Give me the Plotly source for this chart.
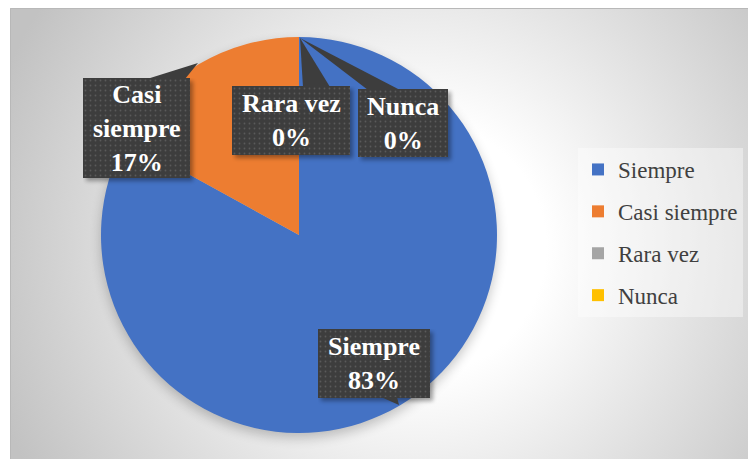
import base64
import plotly.graph_objects as go

# datos de la encuesta
categorias = ["Siempre", "Casi siempre", "Rara vez", "Nunca"]
porcentajes = [83, 17, 0, 0]
etiquetas = ["Siempre", "Casi<br>siempre", "Rara vez", "Nunca"]
colores = ["#4472C4", "#ED7D31", "#A5A5A5", "#FFC000"]

# la pagina tiene 8px de margen, la figura ocupa el resto de la ventana
OFF = 8
W, H = 756 - OFF, 459 - OFF
FONT = "Liberation Serif, Times New Roman, serif"


def px(x):
    return (x - OFF) / W


def py(y):
    return 1 - (y - OFF) / H


def svg_uri(svg):
    return "data:image/svg+xml;base64," + base64.b64encode(svg.encode()).decode()


# fondo con degradado radial (area del grafico) y sombra suave del circulo
fondo = (
    "<svg xmlns='http://www.w3.org/2000/svg' width='746' height='451'>"
    "<defs><radialGradient id='g' gradientUnits='userSpaceOnUse' cx='410' cy='240' r='450'>"
    "<stop offset='0' stop-color='#ffffff'/><stop offset='0.28' stop-color='#ffffff'/>"
    "<stop offset='1' stop-color='#c2c2c2'/></radialGradient>"
    "<filter id='s' x='-20%' y='-20%' width='140%' height='140%'>"
    "<feGaussianBlur stdDeviation='6'/></filter></defs>"
    "<rect width='746' height='451' fill='url(#g)'/>"
    "<circle cx='289' cy='232' r='198' fill='#000' opacity='0.22' filter='url(#s)'/></svg>"
)


def caja_svg(w, h):
    return (
        f"<svg xmlns='http://www.w3.org/2000/svg' width='{w + 10}' height='{h + 10}'>"
        "<defs><pattern id='p' width='5' height='5' patternUnits='userSpaceOnUse'>"
        "<rect width='5' height='5' fill='#3d3d3d'/>"
        "<circle cx='2.5' cy='2.5' r='0.9' fill='#5a5a5a'/></pattern>"
        "<filter id='f' x='-20%' y='-20%' width='140%' height='140%'>"
        "<feGaussianBlur stdDeviation='2'/></filter></defs>"
        f"<rect x='3' y='3' width='{w}' height='{h}' fill='#000' opacity='0.35' filter='url(#f)'/>"
        f"<rect x='0' y='0' width='{w}' height='{h}' fill='url(#p)'/></svg>"
    )


# cajas de las etiquetas (x0, y0, x1, y1) en pixeles de pagina y punteros
cajas = [(318, 329, 430, 398), (83, 78, 190, 178), (232, 86, 350, 155), (358, 89, 448, 157)]
punteros = [
    [(381, 397), (397, 397), (399, 405)],
    [(147, 79), (185, 79), (198, 63)],
    [(303, 87), (330, 87), (300, 38)],
    [(368, 90), (400, 90), (300, 38)],
]

fig = go.Figure()

fig.add_trace(go.Pie(
    labels=categorias, values=porcentajes,
    marker=dict(colors=colores, line=dict(width=0)),
    sort=False, direction="clockwise", rotation=0,
    textinfo="none", hoverinfo="label+percent",
    showlegend=False,
    domain=dict(x=[px(101), px(497)], y=[py(433), py(37)]),
))

# entradas de la leyenda
for cat, col in zip(categorias, colores):
    fig.add_trace(go.Scatter(
        x=[None], y=[None], mode="markers", name=cat, legendgroup=cat,
        marker=dict(symbol="square", size=12, color=col),
    ))

images = [dict(source=svg_uri(fondo), xref="paper", yref="paper",
               x=px(10), y=py(8), sizex=746 / W, sizey=451 / H,
               xanchor="left", yanchor="top", sizing="stretch", layer="below")]
annotations = []
shapes = [dict(type="rect", xref="paper", yref="paper",
               x0=px(10.5), x1=px(757), y0=py(460), y1=py(8.5),
               line=dict(color="#b8b8b8", width=1), layer="below")]

for (x0, y0, x1, y1), pts, et, pct in zip(cajas, punteros, etiquetas, porcentajes):
    w, h = x1 - x0, y1 - y0
    images.append(dict(source=svg_uri(caja_svg(w, h)), xref="paper", yref="paper",
                       x=px(x0), y=py(y0), sizex=(w + 10) / W, sizey=(h + 10) / H,
                       xanchor="left", yanchor="top", sizing="stretch", layer="above"))
    path = "M " + " L ".join(f"{px(a):.5f},{py(b):.5f}" for a, b in pts) + " Z"
    shapes.append(dict(type="path", xref="paper", yref="paper", path=path,
                       fillcolor="#3d3d3d", line=dict(width=0), layer="above"))
    annotations.append(dict(
        text=f"<b>{et}<br>{pct}%</b>", xref="paper", yref="paper",
        x=px((x0 + x1) / 2), y=py((y0 + y1) / 2), xanchor="center", yanchor="middle",
        showarrow=False, font=dict(family=FONT, size=26, color="white"),
    ))

fig.update_layout(
    width=W, height=H,
    margin=dict(l=0, r=0, t=0, b=0),
    paper_bgcolor="white", plot_bgcolor="rgba(0,0,0,0)",
    xaxis=dict(visible=False), yaxis=dict(visible=False),
    images=images, shapes=shapes, annotations=annotations,
    showlegend=True,
    legend=dict(x=px(578), y=py(148), xanchor="left", yanchor="top",
                bgcolor="rgba(255,255,255,0.4)", tracegroupgap=9,
                font=dict(family=FONT, size=23, color="#404040")),
)

fig.write_html("out.html")
